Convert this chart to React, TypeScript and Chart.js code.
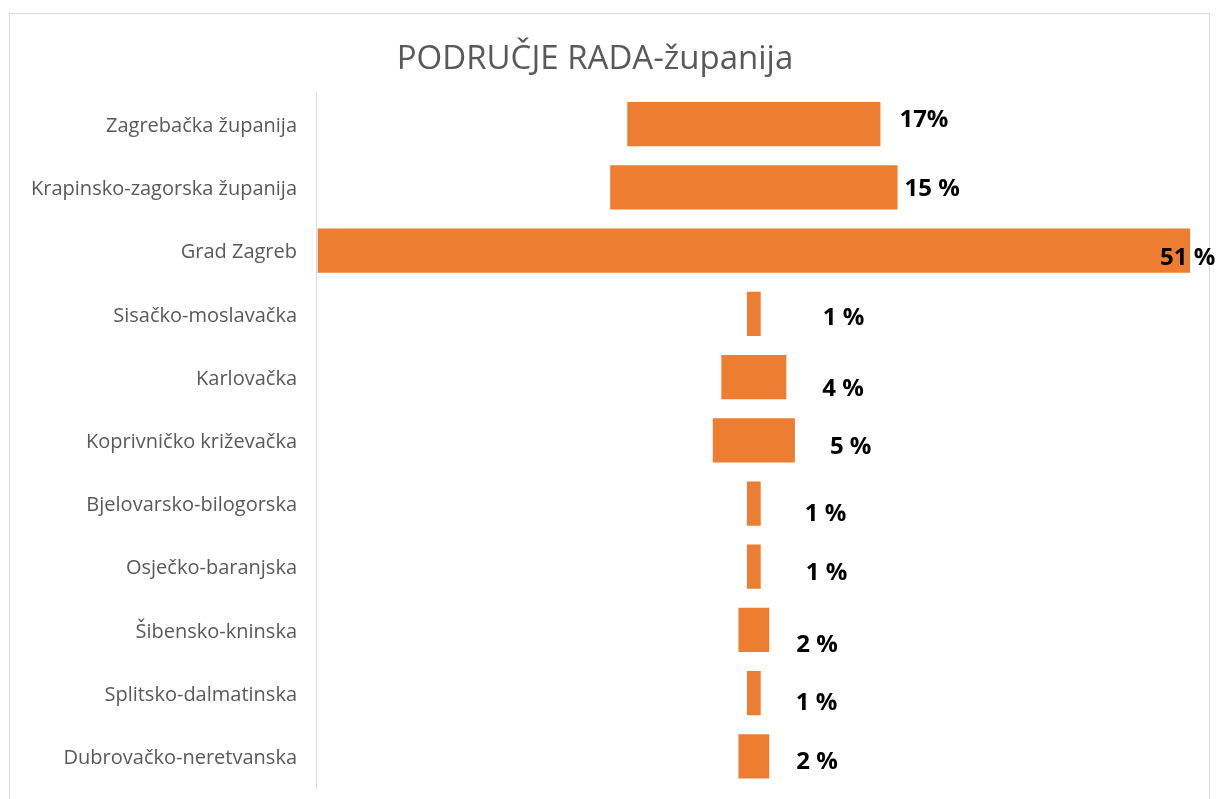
import React, { useEffect, useRef } from "react";
import { Chart, registerables } from "chart.js";

Chart.register(...registerables);

const categories = [
  "Zagrebačka županija",
  "Krapinsko-zagorska županija",
  "Grad Zagreb",
  "Sisačko-moslavačka",
  "Karlovačka",
  "Koprivničko križevačka",
  "Bjelovarsko-bilogorska",
  "Osječko-baranjska",
  "Šibensko-kninska",
  "Splitsko-dalmatinska",
  "Dubrovačko-neretvanska",
];

const shares = [14.8, 16.8, 51, 0.8, 3.8, 4.8, 0.8, 0.8, 1.8, 0.8, 1.8];

const shareLabels = ["17%", "15 %", "51 %", "1 %", "4 %", "5 %", "1 %", "1 %", "2 %", "1 %", "2 %"];

// manual label offsets (px) relative to bar end, as placed in the original
const labelOffsetX = [19, 7, -30, 62, 36, 35, 44, 45, 27, 35, 27];
const labelOffsetY = [-4, 2, 8, 4, 12, 7, 11, 6, 15, 10, 6];

const FONT = "'Open Sans', 'Noto Sans', sans-serif";

export default function App() {
  const ref = useRef<HTMLCanvasElement | null>(null);

  useEffect(() => {
    if (!ref.current) return;
    const maxShare = Math.max(...shares);
    const center = maxShare / 2;
    const floating = shares.map((v) => [center - v / 2, center + v / 2]);

    const frame = {
      id: "frame",
      beforeDraw(chart: any) {
        const ctx = chart.ctx;
        ctx.save();
        ctx.fillStyle = "#ffffff";
        ctx.fillRect(0, 0, chart.width, chart.height);
        ctx.strokeStyle = "#d9d9d9";
        ctx.lineWidth = 1;
        ctx.strokeRect(9.5, 13.5, 1200, 800);
        ctx.restore();
      },
    };

    const valueLabels = {
      id: "valueLabels",
      afterDatasetsDraw(chart: any) {
        const ctx = chart.ctx;
        const meta = chart.getDatasetMeta(0);
        ctx.save();
        ctx.font = `bold 24px ${FONT}`;
        ctx.fillStyle = "#000000";
        ctx.textAlign = "left";
        ctx.textBaseline = "middle";
        meta.data.forEach((el: any, i: number) => {
          const end = Math.max(el.x, el.base);
          ctx.fillText(shareLabels[i], end + labelOffsetX[i], el.y + labelOffsetY[i]);
        });
        ctx.restore();
      },
    };

    const chart = new Chart(ref.current, {
      type: "bar",
      data: {
        labels: categories,
        datasets: [
          {
            data: floating as any,
            backgroundColor: "#ED7D31",
            borderWidth: 0,
            categoryPercentage: 0.7,
            barPercentage: 1,
          },
        ],
      },
      options: {
        indexAxis: "y",
        animation: false,
        responsive: true,
        maintainAspectRatio: false,
        layout: { padding: { left: 0, right: 29, top: 0, bottom: 11 } },
        plugins: {
          legend: { display: false },
          tooltip: { enabled: false },
          title: {
            display: true,
            text: "PODRUČJE RADA-županija",
            color: "#595959",
            font: { family: FONT, size: 33, weight: "normal" as any, lineHeight: 1.2 },
            padding: { top: 40, bottom: 13 },
          },
        },
        scales: {
          x: {
            display: false,
            min: -0.1,
            max: maxShare,
          },
          y: {
            grid: { display: false, drawTicks: false },
            border: { display: true, color: "#d9d9d9", width: 1 },
            ticks: {
              color: "#595959",
              padding: 19,
              labelOffset: 2,
              font: { family: FONT, size: 20 },
            },
            afterFit(scale: any) {
              scale.width = 316;
              scale.paddingTop = 0;
              scale.paddingBottom = 0;
            },
          },
        },
      },
      plugins: [frame, valueLabels],
    });

    return () => chart.destroy();
  }, []);

  return (
    <div style={{ position: "fixed", left: 0, top: 0, width: 1219, height: 799 }}>
      <canvas ref={ref} />
    </div>
  );
}
